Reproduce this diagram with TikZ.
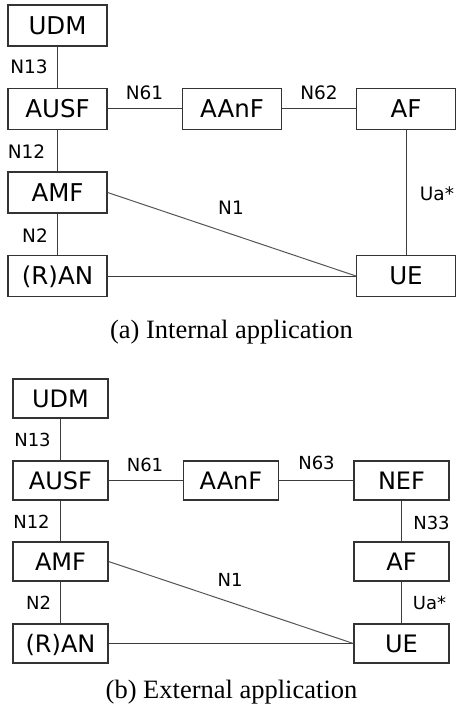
\documentclass[tikz,border=0pt]{standalone}
\usepackage{fontspec}
\setmainfont{Liberation Serif}
\newfontfamily\boxfont{DejaVu Sans}
\definecolor{boxc}{HTML}{333333}
\definecolor{linec}{HTML}{3C3C3C}
\definecolor{diagc}{HTML}{555555}
\begin{document}
\begin{tikzpicture}[x=1pt,y=-1pt,
  nfa/.style={draw=boxc, line width=1.2pt, minimum width=99pt, minimum height=41pt, inner sep=0pt,
    font=\boxfont\fontsize{24.5}{28}\selectfont, text height=17.5pt, text depth=0pt},
  nfb/.style={draw=boxc, line width=1.2pt, minimum width=95pt, minimum height=39pt, inner sep=0pt,
    font=\boxfont\fontsize{24}{28}\selectfont, text height=17pt, text depth=0pt},
  lbla/.style={font=\boxfont\fontsize{18.5}{22}\selectfont, inner sep=0pt, text height=13.5pt, text depth=0pt},
  lblb/.style={font=\boxfont\fontsize{18}{22}\selectfont, inner sep=0pt, text height=13pt, text depth=0pt},
  conn/.style={draw=linec, line width=1pt},
  diag/.style={draw=diagc, line width=1pt},
  captext/.style={font=\fontsize{26.5}{30}\selectfont, anchor=base, inner sep=0pt}]
\useasboundingbox (0,0) rectangle (456,708);
% ---------- (a) ----------
\node[nfa] (udmA)  at (57.5,25.5) {UDM};
\node[nfa] (ausfA) at (57.5,109) {AUSF};
\node[nfa] (amfA)  at (57.5,192.5) {AMF};
\node[nfa] (ranA)  at (57.5,276) {(R)AN};
\node[nfa] (aanfA) at (232,109) {AAnF};
\node[nfa] (afA)   at (406,109) {AF};
\node[nfa] (ueA)   at (406,276) {UE};
\draw[conn] (udmA) -- (ausfA);
\draw[conn] (ausfA) -- (amfA);
\draw[conn] (amfA) -- (ranA);
\draw[conn] (ausfA) -- (aanfA);
\draw[conn] (aanfA) -- (afA);
\draw[conn] (afA) -- (ueA);
\draw[conn] (ranA.east) -- (ueA.west);
\draw[diag] (amfA.east) -- (ueA.west);
\node[lbla] (n13A) at (29,67) {N13};
\node[lbla] (n12A) at (26.5,152) {N12};
\node[lbla] (n2A)  at (35,236) {N2};
\node[lbla] (n61A) at (144.5,93) {N61};
\node[lbla] (n62A) at (319,93) {N62};
\node[lbla] (n1A)  at (231,208) {N1};
\node[lbla] (uaA)  at (437,193.5) {Ua*};
\node[captext] (capA) at (231.5,338) {(a) Internal application};
% ---------- (b) ----------
\node[nfb] (udmB)  at (60.5,398.5) {UDM};
\node[nfb] (ausfB) at (60.5,480.5) {AUSF};
\node[nfb] (amfB)  at (60.5,561.5) {AMF};
\node[nfb] (ranB)  at (60.5,643.5) {(R)AN};
\node[nfb] (aanfB) at (231,480.5) {AAnF};
\node[nfb] (nefB)  at (401.5,480.5) {NEF};
\node[nfb] (afB)   at (401.5,561.5) {AF};
\node[nfb] (ueB)   at (401.5,643.5) {UE};
\draw[conn] (udmB) -- (ausfB);
\draw[conn] (ausfB) -- (amfB);
\draw[conn] (amfB) -- (ranB);
\draw[conn] (ausfB) -- (aanfB);
\draw[conn] (aanfB) -- (nefB);
\draw[conn] (nefB) -- (afB);
\draw[conn] (afB) -- (ueB);
\draw[conn] (ranB.east) -- (ueB.west);
\draw[diag] (amfB.east) -- (ueB.west);
\node[lblb] (n13B) at (32.5,440) {N13};
\node[lblb] (n12B) at (31.5,522) {N12};
\node[lblb] (n2B)  at (38.5,603) {N2};
\node[lblb] (n61B) at (145,465) {N61};
\node[lblb] (n63B) at (316.5,463) {N63};
\node[lblb] (n33B) at (431.5,523) {N33};
\node[lblb] (n1B)  at (230,580) {N1};
\node[lblb] (uaB)  at (429.5,603) {Ua*};
\node[captext] (capB) at (231.5,698) {(b) External application};
\end{tikzpicture}
\end{document}
